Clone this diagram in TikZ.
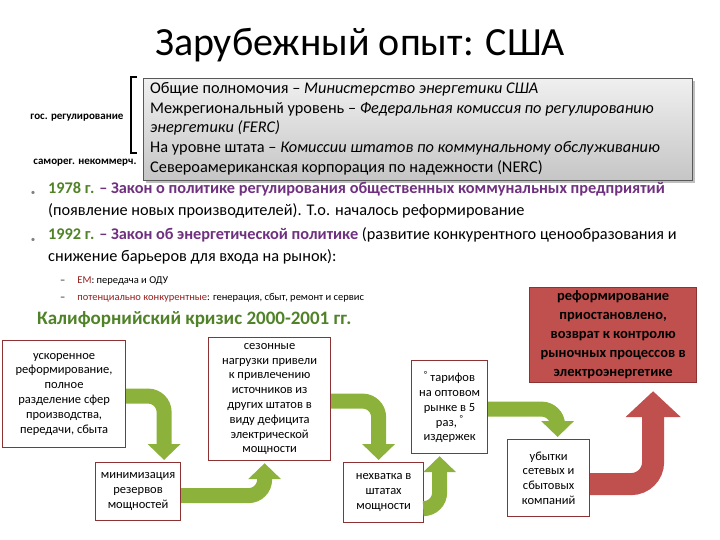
\documentclass[tikz,border=0pt]{standalone}
\usepackage{fontspec}
\setmainfont{Carlito}
\usetikzlibrary{arrows.meta,shadows}
\definecolor{grn}{RGB}{80,130,40}
\definecolor{arw}{RGB}{140,178,60}
\definecolor{purp}{RGB}{112,48,128}
\definecolor{dred}{RGB}{150,30,30}
\definecolor{bred}{RGB}{192,80,77}
\definecolor{bord}{RGB}{140,50,50}
\begin{document}
\begin{tikzpicture}[x=1pt,y=-1pt,
  box/.style={draw=bord,line width=1.2pt,fill=white,align=center,inner sep=2pt,
    font=\fontsize{12.5}{14.8}\selectfont,anchor=north west},
  garrow/.style={draw=arw,line width=15pt,rounded corners=16pt,
    -{Triangle[width=32pt,length=16pt]}},
  rarrow/.style={draw=bred,line width=22pt,rounded corners=22pt,
    -{Triangle[width=54pt,length=26pt]}},
  lbl/.style={font=\fontsize{11}{13}\bfseries\selectfont,anchor=east},
  dot/.style={text=gray,font=\fontsize{9}{9}\selectfont}]
\useasboundingbox (0,0) rectangle (720,540);
\node (title) at (360,45) {\fontsize{40}{44}\selectfont Зарубежный опыт: США};
% gray box
\node[draw=gray!70!black,top color=gray!12,bottom color=gray!45,drop shadow,
  minimum width=549pt,minimum height=102pt,anchor=north west] (gbox) at (143,78) {};
\node[anchor=north west,align=left,inner sep=0pt,font=\fontsize{16.3}{19.8}\selectfont] (gtext) at (150,82)
{Общие полномочия – \textit{Министерство энергетики США}\\
Межрегиональный уровень – \textit{Федеральная комиссия по регулированию}\\
\textit{энергетики (FERC)}\\
На уровне штата – \textit{Комиссии штатов по коммунальному обслуживанию}\\
Североамериканская корпорация по надежности (NERC)};
\draw[line width=1.6pt] (137,77) -- (131,77) -- (131,153) -- (137,153);
\node[lbl] (gos) at (127,118) {гос. регулирование};
\node[lbl] (sam) at (140,163) {саморег. некоммерч.};
% bullets
\node[anchor=north west,align=left,inner sep=0pt,font=\fontsize{16.3}{22}\selectfont] (bul) at (48,182)
{\textcolor{grn}{\bfseries 1978 г.} \textcolor{purp}{\bfseries – Закон о политике регулирования общественных коммунальных предприятий}\\
(появление новых производителей). Т.о. началось реформирование\\[2pt]
\textcolor{grn}{\bfseries 1992 г.} \textcolor{purp}{\bfseries – Закон об энергетической политике} (развитие конкурентного ценообразования и\\
снижение барьеров для входа на рынок):};
\node[dot] (b1) at (33,193) {•};
\node[dot] (b2) at (33,240) {•};
\node[anchor=west,inner sep=0pt,font=\fontsize{10.5}{12}\selectfont] (d1) at (60,281) {–\hspace{12pt}\textcolor{dred}{ЕМ}: передача и ОДУ};
\node[anchor=west,inner sep=0pt,font=\fontsize{10.5}{12}\selectfont] (d2) at (60,298) {–\hspace{12pt}\textcolor{dred}{потенциально конкурентные}: генерация, сбыт, ремонт и сервис};
\node[anchor=west,inner sep=0pt,text=grn,font=\fontsize{19}{22}\bfseries\selectfont] (cal) at (37,320) {Калифорнийский кризис 2000-2001 гг.};
% boxes
\node[box,minimum width=123pt,minimum height=107pt] (A) at (2,340) {ускоренное\\реформирование,\\полное\\разделение сфер\\производства,\\передачи, сбыта};
\node[box,minimum width=85pt,minimum height=58pt] (B) at (95,462) {минимизация\\резервов\\мощностей};
\node[box,minimum width=122pt,minimum height=123pt] (C) at (208,337) {сезонные\\нагрузки привели\\к привлечению\\источников из\\других штатов в\\виду дефицита\\электрической\\мощности};
\node[box,minimum width=80pt,minimum height=60pt] (D) at (343,462) {нехватка в\\штатах\\мощности};
\node[box,minimum width=76pt,minimum height=93pt] (E) at (411,360) {\textsuperscript{\textdegree} тарифов\\на оптовом\\рынке в 5\\раз, \textsuperscript{\textdegree}\\издержек};
\node[box,minimum width=82pt,minimum height=77pt] (F) at (507,439) {убытки\\сетевых и\\сбытовых\\компаний};
\node[box,fill=bred,minimum width=167pt,minimum height=95pt,font=\fontsize{14.5}{19}\bfseries\selectfont] (R) at (529,287)
{реформирование\\приостановлено,\\возврат к контролю\\рыночных процессов в\\электроэнергетике};
% arrows
\draw[garrow] ([yshift=-2pt]A.east) -| ([xshift=26pt,yshift=2pt]B.north);
\draw[garrow] ([yshift=-4pt]B.east) -| ([xshift=-5pt,yshift=-2pt]C.south);
\draw[garrow] ([yshift=-2pt]C.east) -| ([xshift=-5pt,yshift=2pt]D.north);
\draw[garrow] ([yshift=-16pt]D.east) -| ([xshift=-10pt,yshift=-2pt]E.south);
\draw[garrow] ([yshift=-2pt]E.east) -| ([xshift=9pt,yshift=2pt]F.north);
\draw[rarrow] ([yshift=-6pt]F.east) -| ([xshift=40pt,yshift=-8pt]R.south);
\end{tikzpicture}
\end{document}
